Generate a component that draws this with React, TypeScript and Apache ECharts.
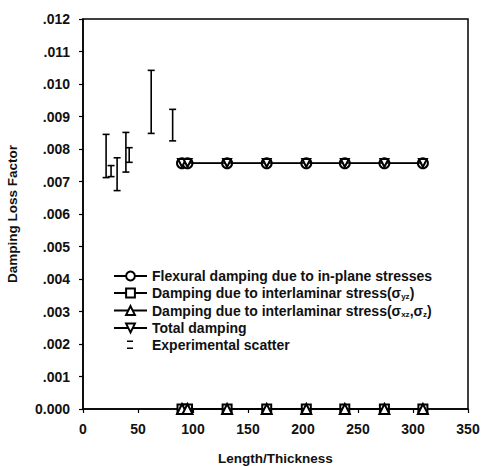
import React, { useEffect, useRef } from "react";
import * as echarts from "echarts";

const FONT = "'Liberation Sans', Arial, sans-serif";

// Model predictions (x = length/thickness)
const lengthThickness = [90, 95, 131, 167, 203, 238, 274, 309];
const flexuralDamping = [0.00756, 0.00756, 0.00756, 0.00756, 0.00756, 0.00756, 0.00756, 0.00756];
const interlaminarYz = [0, 0, 0, 0, 0, 0, 0, 0];
const interlaminarXzZ = [0, 0, 0, 0, 0, 0, 0, 0];
const totalDamping = [0.00757, 0.00757, 0.00757, 0.00757, 0.00757, 0.00757, 0.00757, 0.00757];

// Experimental scatter (error bars)
const expX = [21, 25.5, 31, 39, 42, 62, 81.5];
const expLow = [0.00712, 0.00715, 0.00672, 0.00729, 0.00759, 0.00848, 0.00825];
const expHigh = [0.00845, 0.00749, 0.00773, 0.00851, 0.00804, 0.01042, 0.00922];

const legendNames = [
  "Flexural damping due to in-plane stresses",
  "Damping due to interlaminar stress(yz)",
  "Damping due to interlaminar stress(xz,z)",
  "Total damping",
  "Experimental scatter",
];

function pairs(ys: number[]) {
  return lengthThickness.map((x, i) => [x, ys[i]]);
}

export default function App() {
  const ref = useRef<HTMLDivElement>(null);
  useEffect(() => {
    if (!ref.current) return;
    const chart = echarts.init(ref.current, undefined, { renderer: "svg" });
    const markerStyle = { color: "#fff", borderColor: "#000", borderWidth: 2 };
    const lineStyle = { color: "#000", width: 1.3 };
    const txt = { fontFamily: FONT, fontWeight: "bold" as const, color: "#111" };
    const option: any = {
      animation: false,
      textStyle: { fontFamily: FONT },
      grid: {
        left: 83,
        right: 13,
        top: 19,
        bottom: 57,
        show: true,
        borderColor: "#000",
        borderWidth: 1.5,
        containLabel: false,
        outerBoundsMode: "none",
      },
      legend: {
        orient: "vertical",
        left: 108,
        top: 264,
        itemWidth: 33,
        itemHeight: 11,
        itemGap: 3,
        textStyle: {
          ...txt,
          fontSize: 14,
          rich: {
            n: { ...txt, fontSize: 14 },
            s: { ...txt, fontSize: 8, padding: [7, 0, 0, 0] },
          },
        },
        formatter: (name: string) => {
          if (name === legendNames[1])
            return "{n|Damping due to interlaminar stress(σ}{s|yz}{n|)}";
          if (name === legendNames[2])
            return "{n|Damping due to interlaminar stress(σ}{s|xz}{n|,σ}{s|z}{n|)}";
          return "{n|" + name + "}";
        },
        data: [
          { name: legendNames[0] },
          { name: legendNames[1] },
          { name: legendNames[2] },
          { name: legendNames[3] },
          {
            name: legendNames[4],
            icon: "path://M0,0h0.1v0.1h-0.1z M13,1h6v1.6h-6z M13,8h6v1.6h-6z M32.9,10.9h0.1v0.1h-0.1z",
            itemStyle: { color: "#000" },
          },
        ],
      },
      xAxis: {
        type: "value",
        min: 0,
        max: 350,
        interval: 50,
        name: "Length/Thickness",
        nameLocation: "middle",
        nameGap: 42,
        nameTextStyle: { ...txt, fontSize: 13.5 },
        axisLine: { lineStyle: { color: "#000", width: 1.5 } },
        axisTick: { length: 4, lineStyle: { color: "#000", width: 1.2 } },
        axisLabel: { ...txt, fontSize: 14, margin: 13 },
        splitLine: { show: false },
      },
      yAxis: {
        type: "value",
        min: 0,
        max: 0.012,
        interval: 0.001,
        name: "Damping Loss Factor",
        nameLocation: "middle",
        nameGap: 64,
        nameTextStyle: { ...txt, fontSize: 13.5 },
        axisLine: { show: true, lineStyle: { color: "#000", width: 1.5 } },
        axisTick: { show: true, length: 4, lineStyle: { color: "#000", width: 1.2 } },
        axisLabel: {
          ...txt,
          fontSize: 14,
          margin: 13,
          formatter: (v: number) => (v === 0 ? "0.000" : v.toFixed(3).replace(/^0/, "")),
        },
        splitLine: { show: false },
      },
      series: [
        {
          name: legendNames[0],
          type: "line",
          data: pairs(flexuralDamping),
          symbol: "circle",
          symbolSize: 10,
          showAllSymbol: true,
          itemStyle: markerStyle,
          lineStyle,
          z: 3,
        },
        {
          name: legendNames[1],
          type: "line",
          data: pairs(interlaminarYz),
          symbol: "rect",
          symbolSize: 9,
          itemStyle: markerStyle,
          lineStyle,
          z: 3,
        },
        {
          name: legendNames[2],
          type: "line",
          data: pairs(interlaminarXzZ),
          symbol: "triangle",
          symbolSize: 10,
          itemStyle: markerStyle,
          lineStyle,
          z: 4,
        },
        {
          name: legendNames[3],
          type: "line",
          data: pairs(totalDamping),
          symbol: "triangle",
          symbolRotate: 180,
          symbolSize: 8,
          itemStyle: markerStyle,
          lineStyle,
          z: 4,
        },
        {
          name: legendNames[4],
          type: "custom",
          data: expX.map((x, i) => [x, expLow[i], expHigh[i]]),
          itemStyle: { color: "#000" },
          renderItem: (params: any, api: any) => {
            const lo = api.coord([api.value(0), api.value(1)]);
            const hi = api.coord([api.value(0), api.value(2)]);
            const hw = 3.5;
            const st = { stroke: "#000", lineWidth: 1.6 };
            return {
              type: "group",
              children: [
                { type: "line", shape: { x1: lo[0], y1: lo[1], x2: hi[0], y2: hi[1] }, style: st },
                { type: "line", shape: { x1: lo[0] - hw, y1: lo[1], x2: lo[0] + hw, y2: lo[1] }, style: st },
                { type: "line", shape: { x1: hi[0] - hw, y1: hi[1], x2: hi[0] + hw, y2: hi[1] }, style: st },
              ],
            };
          },
          encode: { x: 0, y: [1, 2] },
          z: 5,
        },
      ],
    };
    chart.setOption(option);
    return () => chart.dispose();
  }, []);
  return (
    <div
      ref={ref}
      style={{ position: "fixed", left: 0, top: 0, width: 481, height: 466, background: "#fff" }}
    />
  );
}
